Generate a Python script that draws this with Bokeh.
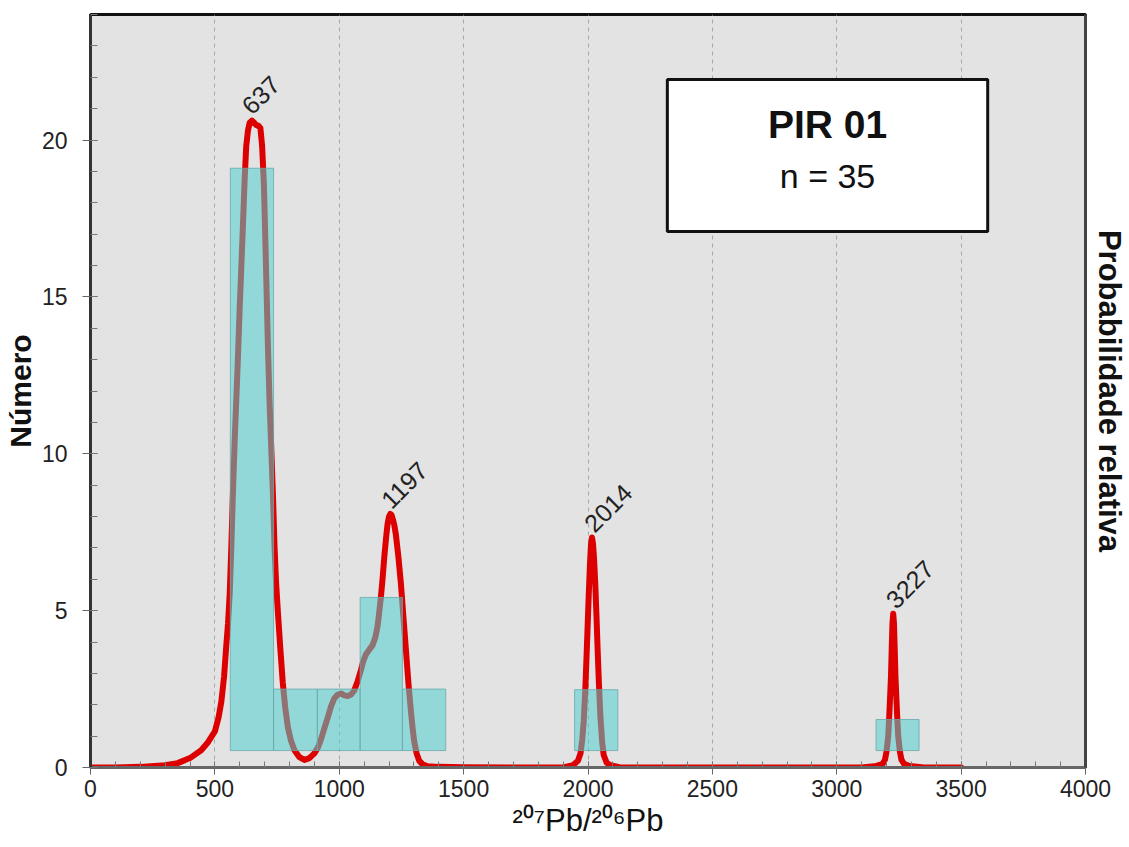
import math
from bokeh.plotting import figure
from bokeh.models import Range1d, LinearAxis, BoxAnnotation, Label, SingleIntervalTicker, FixedTicker
from bokeh.embed import file_html
from bokeh.resources import INLINE
from bokeh.core.properties import value

# ---- data ----
curve_x = [0, 100, 200, 300, 350, 400, 445, 470, 500, 515, 526, 537, 546, 553, 560, 566, 572, 580,
           592, 600, 612, 620, 626, 633, 640, 649, 658, 666, 675, 683, 690, 697, 702, 706, 713, 720,
           727, 733, 740, 746, 753, 763, 773, 783, 793, 806, 820, 840, 860, 880, 900, 915, 927, 940,
           954, 967, 980, 993, 1007, 1020, 1034, 1047, 1060, 1074, 1087, 1097, 1107, 1120, 1134, 1145,
           1154, 1160, 1167, 1174, 1181, 1188, 1194, 1200, 1205, 1210, 1216, 1222, 1228, 1238, 1248,
           1258, 1268, 1278, 1288, 1295, 1301, 1311, 1321, 1335, 1355, 1400, 1500, 1700, 1900, 1940,
           1960, 1970, 1977, 1983, 1989, 1994, 1999, 2003, 2008, 2012, 2016, 2020, 2024, 2029, 2034,
           2039, 2044, 2050, 2057, 2063, 2075, 2090, 2130, 2400, 2800, 3100, 3160, 3185, 3194, 3200,
           3207, 3212, 3218, 3221, 3224, 3227, 3230, 3233, 3236, 3242, 3247, 3254, 3260, 3270, 3293,
           3350, 3500]
curve_y = [0.0, 0.0, 0.02, 0.07, 0.14, 0.3, 0.55, 0.78, 1.15, 1.6, 2.1, 2.9, 3.9, 4.6, 5.6, 7.0, 8.6, 10.5,
           12.9, 14.7, 17.1, 18.8, 19.8, 20.3, 20.55, 20.62, 20.55, 20.48, 20.45, 20.38, 19.8, 18.6, 17.1, 15.8, 13.5, 11.6,
           10.1, 8.8, 7.0, 5.9, 5.0, 3.8, 2.7, 1.9, 1.3, 0.85, 0.55, 0.33, 0.24, 0.3, 0.45, 0.65, 0.9, 1.25,
           1.6, 1.95, 2.2, 2.32, 2.36, 2.3, 2.28, 2.32, 2.45, 2.75, 3.1, 3.4, 3.6, 3.75, 3.9, 4.15,
           4.5, 4.9, 5.4, 6.0, 6.7, 7.3, 7.75, 8.0, 8.08, 8.05, 7.9, 7.7, 7.4, 6.7, 5.85,
           4.8, 3.75, 2.7, 1.8, 1.25, 0.85, 0.45, 0.22, 0.1, 0.04, 0.02, 0.01, 0.0, 0.0, 0.07,
           0.22, 0.45, 0.9, 1.5, 2.45, 3.5, 4.6, 5.5, 6.5, 7.1, 7.33, 7.15, 6.7, 5.9, 4.85,
           3.7, 2.65, 1.6, 0.8, 0.4, 0.15, 0.07, 0.0, 0.0, 0.0, 0.0, 0.05, 0.12, 0.25, 0.5,
           1.0, 1.8, 2.9, 3.8, 4.6, 4.9, 4.6, 3.8, 2.9, 1.8, 1.0, 0.5, 0.25, 0.12, 0.05,
           0.0, 0.0]

bin_left = [562, 736, 912, 1084, 1254, 1946, 3158]
bin_right = [736, 912, 1084, 1254, 1428, 2120, 3331]
bin_top = [19.1, 2.5, 2.5, 5.42, 2.5, 2.48, 1.53]
hist_base = 0.54

peak_ages = [637, 1197, 2014, 3227]
peak_heights = [20.65, 8.08, 7.33, 4.9]
peak_labels = ["637", "1197", "2014", "3227"]

sample_name = "PIR 01"
sample_n = "n = 35"
x_title = "\u00b2\u2070\u2077Pb/\u00b2\u2070\u2076Pb"
y_title = "Número"
y2_title = "Probabilidade relativa"

FONT = "Liberation Sans"

W, H = 1129, 847
BL, BR, BT, BB = 89, 43, 14, 80
X0, X1, Y0, Y1 = 0, 4000, 0, 24

p = figure(width=W, height=H, output_backend="svg", toolbar_location=None,
           x_range=Range1d(X0, X1), y_range=Range1d(Y0, Y1),
           min_border_left=BL, min_border_right=BR, min_border_top=BT, min_border_bottom=BB)

fw = W - BL - BR
fh = H - BT - BB


def dx(px):
    return X0 + (px - BL) * (X1 - X0) / fw


def dy(py):
    return Y0 + (H - BB - py) * (Y1 - Y0) / fh


def label_y(baseline_py, size):
    # Label draws its baseline ~0.4 em below the anchor point
    return dy(baseline_py - 0.4 * size)


p.background_fill_color = "#e3e3e3"
p.border_fill_color = "white"
p.outline_line_color = "#111111"
p.outline_line_width = 3

# axes
xa = p.xaxis[0]
xa.ticker = SingleIntervalTicker(interval=500, num_minor_ticks=5)
xa.axis_label = x_title
xa.axis_label_text_font = FONT
xa.axis_label_text_font_size = "31px"
xa.axis_label_text_font_style = "normal"
xa.axis_label_text_color = "#111"
xa.axis_label_standoff = 3
xa.major_label_text_font = FONT
xa.major_label_text_font_size = "23px"
xa.major_label_text_color = "#222"
xa.major_label_standoff = 5
xa.axis_line_color = "#666"
xa.axis_line_width = 3
xa.major_tick_in = 6
xa.major_tick_out = 7
xa.minor_tick_in = 6
xa.minor_tick_out = 0
xa.major_tick_line_color = "#666"
xa.minor_tick_line_color = "#777"

ya = p.yaxis[0]
ya.ticker = SingleIntervalTicker(interval=5, num_minor_ticks=5)
ya.axis_label = y_title
ya.axis_label_text_font = FONT
ya.axis_label_text_font_size = "30px"
ya.axis_label_text_font_style = "bold"
ya.axis_label_text_color = "#111"
ya.axis_label_standoff = 2
ya.major_label_text_font = FONT
ya.major_label_text_font_size = "23px"
ya.major_label_text_color = "#222"
ya.major_label_standoff = 15
ya.axis_line_color = "#333"
ya.axis_line_width = 3
ya.major_tick_in = 7
ya.major_tick_out = 8
ya.minor_tick_in = 7
ya.minor_tick_out = 0
ya.major_tick_line_color = "#666"
ya.minor_tick_line_color = "#777"

ra = LinearAxis(ticker=FixedTicker(ticks=[]), axis_label=y2_title)
ra.axis_label_text_font = FONT
ra.axis_label_text_font_size = "31px"
ra.axis_label_text_font_style = "bold"
ra.axis_label_text_color = "#111"
ra.axis_label_standoff = 6
ra.axis_line_color = "#444"
ra.axis_line_width = 3
ra.major_tick_in = 0
ra.major_tick_out = 0
ra.minor_tick_in = 0
ra.minor_tick_out = 0
ra.major_label_text_font_size = "0px"
p.add_layout(ra, "right")

p.xgrid.grid_line_color = "#a8a8a8"
p.xgrid.grid_line_dash = "4 4"
p.xgrid.grid_line_width = 1
p.ygrid.visible = False

# probability curve
p.line(curve_x, curve_y, line_color="#dd0000", line_width=6, line_join="round", line_cap="round")

# histogram
p.quad(left=bin_left, right=bin_right, top=bin_top, bottom=hist_base,
       fill_color="#52cfcf", fill_alpha=0.55, line_color="#6aa9a9", line_width=1, line_alpha=0.8)

# peak labels
p.text(x=peak_ages, y=peak_heights, text=peak_labels, angle=math.pi / 4,
       text_font=value(FONT), text_font_size="25px", text_color="#222",
       text_align="left", text_baseline="alphabetic", x_offset=-3, y_offset=-10)

# sample box
box_l, box_r, box_b, box_t = dx(667), dx(988), dy(231), dy(79)
p.add_layout(BoxAnnotation(left=box_l, right=box_r, bottom=box_b, top=box_t,
                           fill_color="white", fill_alpha=1.0, line_color="#111",
                           line_alpha=1.0, line_width=3))
p.add_layout(Label(x=(box_l + box_r) / 2, y=label_y(140, 39), text=sample_name, text_align="center",
                   text_baseline="alphabetic", text_font=FONT, text_font_size="39px",
                   text_font_style="bold", text_color="#111"))
p.add_layout(Label(x=(box_l + box_r) / 2, y=label_y(189, 34), text=sample_n, text_align="center",
                   text_baseline="alphabetic", text_font=FONT, text_font_size="34px",
                   text_color="#111"))

open("out.html", "w").write(file_html(p, INLINE))
